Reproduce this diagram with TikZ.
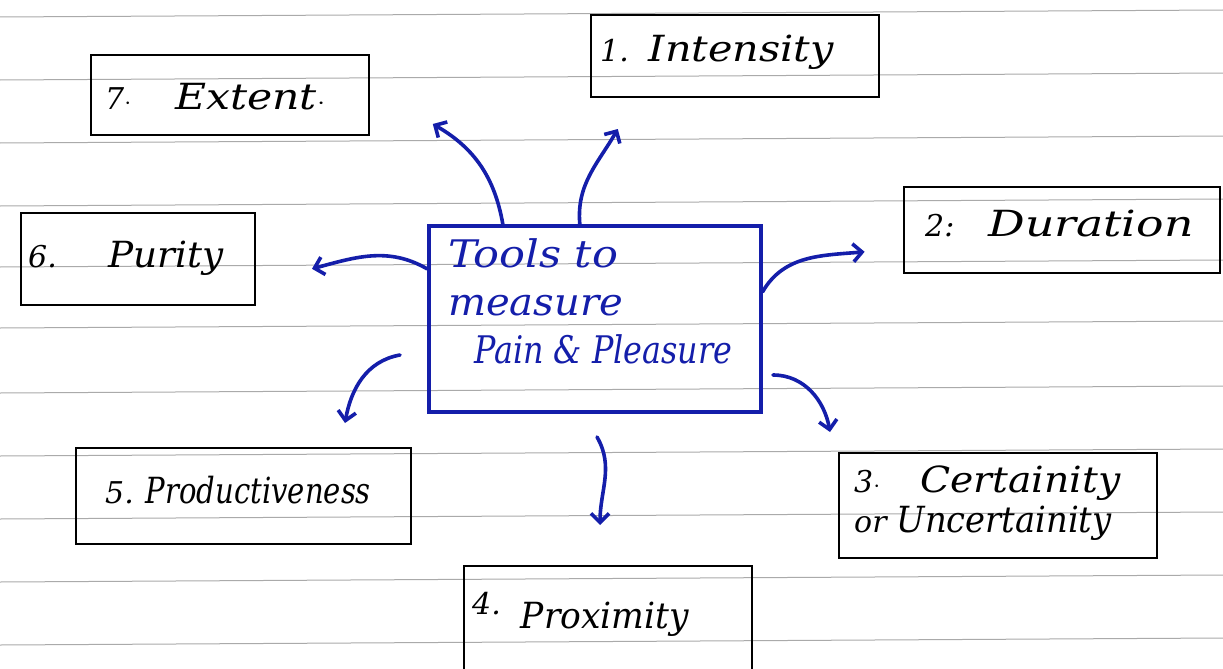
\documentclass[tikz,border=0pt]{standalone}
\usepackage{fontspec}
\usepackage{graphicx}
\setmainfont{DejaVu Serif}
\usetikzlibrary{arrows.meta}
\definecolor{ink}{RGB}{20,30,170}
\definecolor{rule}{RGB}{170,170,170}
\newcommand{\sw}[2]{\resizebox{#1}{\height}{\fontsize{36}{40}\selectfont #2}}
\begin{document}
\begin{tikzpicture}[x=1pt,y=-1pt,
  box/.style={draw=black,line width=2.4pt,inner sep=0pt,anchor=north west},
  lbl/.style={font=\itshape\fontsize{30}{40}\selectfont,anchor=west,inner sep=0pt},
  conn/.style={draw=ink,line width=3.6pt,line cap=round,-{Straight Barb[length=9pt,width=18pt,line width=3.6pt]}},
  ruled/.style={draw=rule,line width=1pt}]
\useasboundingbox (0,0) rectangle (1223,669);
\fill[white] (0,0) rectangle (1223,669);
% ruled paper
\foreach \yy in {14,77,140,203,264,325,390,453,516,579,642}
  \draw[ruled] (0,\yy+3) -- (1223,\yy-4);
% boxes
\node[box,minimum width=278pt,minimum height=80pt] (extent) at (90,54) {};
\node[lbl] (extentt) at (105,97) {7$\cdot$\hspace{44pt}\sw{150pt}{Extent$\cdot$}};
\node[box,minimum width=288pt,minimum height=82pt] (int) at (590,14) {};
\node[lbl] (intt) at (600,52) {1.\hspace{20pt}\sw{185pt}{Intensity}};
\node[box,minimum width=316pt,minimum height=86pt] (dur) at (903,186) {};
\node[lbl] (durt) at (925,224) {2:\hspace{34pt}\sw{205pt}{Duration}};
\node[box,minimum width=234pt,minimum height=92pt] (pur) at (20,212) {};
\node[lbl] (purt) at (28,258) {6.\hspace{52pt}\sw{115pt}{Purity}};
\node[box,minimum width=335pt,minimum height=96pt] (prod) at (75,447) {};
\node[lbl] (prodt) at (105,490) {5.\hspace{12pt}\sw{225pt}{Productiveness}};
\node[box,minimum width=318pt,minimum height=105pt] (cert) at (838,452) {};
\node[lbl,align=left,anchor=north west] (certt) at (854,466) {3$\cdot$\hspace{40pt}\sw{200pt}{Certainity}\\or\hspace{10pt}\sw{215pt}{Uncertainity}};
\node[box,minimum width=288pt,minimum height=105pt] (prox) at (463,565) {};
\node[lbl] (proxt) at (472,614) {\raisebox{14pt}{4.}\hspace{20pt}\sw{168pt}{Proximity}};
% centre
\node[draw=ink,line width=3.6pt,minimum width=332pt,minimum height=186pt,anchor=north west] (c) at (427,224) {};
\node[font=\itshape\fontsize{38}{48}\selectfont,text=ink,align=left,anchor=north west,inner sep=0pt] (ct) at (448,238) {\resizebox{170pt}{\height}{Tools to}\\\resizebox{175pt}{\height}{measure}\\\hspace{26pt}\resizebox{258pt}{\height}{Pain \& Pleasure}};
% connectors
\draw[conn] ([xshift=-92pt]c.north) to[out=100,in=-30] ++(-70,-100);
\draw[conn] ([xshift=-15pt]c.north) to[out=95,in=-120] ++(38,-95);
\draw[conn] ([yshift=27pt]c.east) to[out=60,in=185] ++(102,-40);
\draw[conn] ([yshift=50pt]c.west) to[out=150,in=15] ++(-115,0);
\coordinate (pl) at (400,355);
\draw[conn] (pl) to[out=190,in=80] (345,423);
\coordinate (px) at (597,437);
\draw[conn] (px) to[out=-60,in=90] (600,525);
\coordinate (ce) at (773,375);
\draw[conn] (ce) to[out=0,in=100] (830,432);
\end{tikzpicture}
\end{document}
